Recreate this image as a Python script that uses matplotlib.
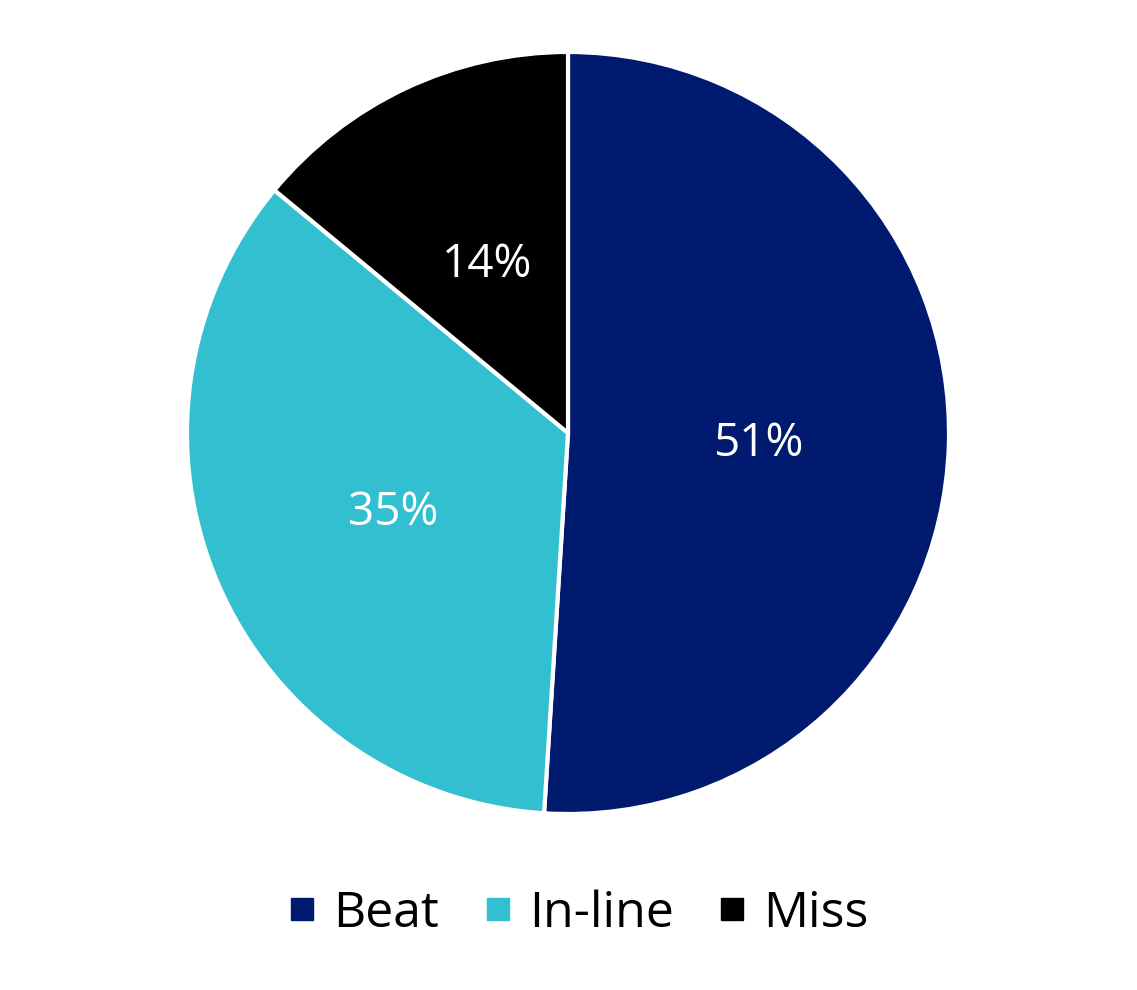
import matplotlib
matplotlib.use("Agg")
import matplotlib.pyplot as plt
from matplotlib.lines import Line2D

categories = ["Beat", "In-line", "Miss"]
values = [51, 35, 14]
colors = ["#001A70", "#32C0D0", "#000000"]

plt.rcParams['font.family'] = ['Open Sans', 'DejaVu Sans']

W, H = 1137, 990
fig = plt.figure(figsize=(W / 100, H / 100), dpi=100)
cx, cy, r = 568, 433, 381
ax = fig.add_axes([(cx - r) / W, (H - cy - r) / H, 2 * r / W, 2 * r / H])
wedges, texts, autotexts = ax.pie(
    values, colors=colors, startangle=90, counterclock=False,
    autopct=lambda p: f"{p:.0f}%", pctdistance=0.5,
    wedgeprops=dict(edgecolor="white", linewidth=3),
    textprops=dict(color="white", fontsize=33),
)
for t in autotexts:
    x, y = t.get_position()
    t.set_position((x, y - 0.012))
ax.set_xlim(-1.0, 1.0)
ax.set_ylim(-1.0, 1.0)
ax.set_aspect("equal")

handles = [Line2D([0], [0], marker="s", linestyle="none", markersize=16,
                  markerfacecolor=c, markeredgecolor=c) for c in colors]
fig.legend(handles, categories, loc="center",
           bbox_to_anchor=(0.5 + 10 / W, 1 - 914 / H),
           ncol=3, frameon=False, fontsize=36, handlelength=0.55,
           handletextpad=0.35, columnspacing=0.9)

fig.savefig("out.png", dpi=100)
